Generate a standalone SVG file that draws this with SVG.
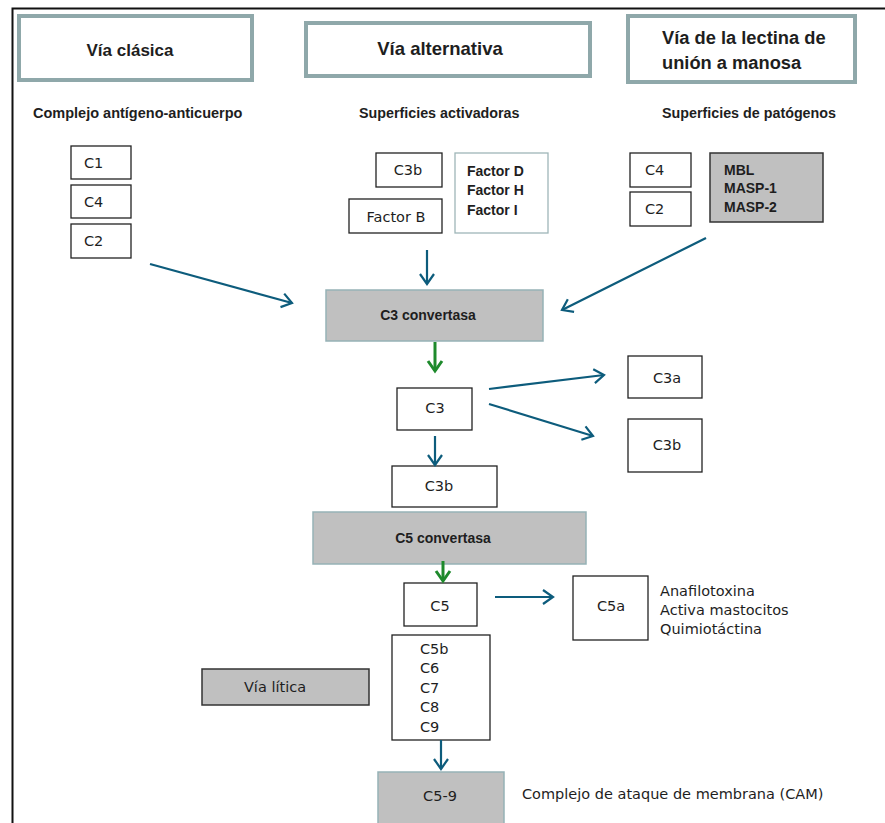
<svg xmlns="http://www.w3.org/2000/svg" width="885" height="823" viewBox="0 0 885 823">
<defs>
<style>
.hdr{fill:#fff;stroke:#8fa8aa;stroke-width:4}
.box{fill:#fff;stroke:#222;stroke-width:1.3}
.gbox{fill:#c0c0c0;stroke:#96b2b6;stroke-width:1.5}
.gboxd{fill:#c0c0c0;stroke:#333;stroke-width:1.5}
.lbox{fill:#fff;stroke:#9fb6b8;stroke-width:1.3}
.b{font-family:"Liberation Sans",Arial,sans-serif;font-weight:bold;fill:#1e1e1e}
.s{font-size:14px}
.t{font-family:"DejaVu Sans",Verdana,sans-serif;font-size:14.5px;fill:#1e1e1e}
.a{fill:none;stroke:#0d5c7c;stroke-width:2.2}
.g{fill:none;stroke:#1e8a2c;stroke-width:3}
</style>
<marker id="ah" markerUnits="userSpaceOnUse" markerWidth="20" markerHeight="20" refX="12" refY="8" orient="auto" viewBox="0 0 20 16">
<path d="M2,1 L12,8 L2,15" fill="none" stroke="#0d5c7c" stroke-width="2.2"/>
</marker>
<marker id="gh" markerUnits="userSpaceOnUse" markerWidth="20" markerHeight="20" refX="12" refY="8" orient="auto" viewBox="0 0 20 16">
<path d="M2,1 L12,8 L2,15" fill="none" stroke="#1e8a2c" stroke-width="3"/>
</marker>
</defs>
<rect width="885" height="823" fill="#fff"/>
<path d="M12.5,823 V8.5 H885" fill="none" stroke="#111" stroke-width="2"/>

<g id="via-clasica"><rect class="hdr" x="19" y="16" width="233" height="64"/><text class="b" x="130" y="56" font-size="17" text-anchor="middle">Vía clásica</text></g>
<g id="via-alternativa"><rect class="hdr" x="306" y="23" width="284" height="53"/><text class="b" x="440" y="55" font-size="18.5" text-anchor="middle">Vía alternativa</text></g>
<g id="via-lectina"><rect class="hdr" x="628" y="16" width="227" height="66"/><text class="b" x="662" y="44" font-size="18.3">Vía de la lectina de</text><text class="b" x="662" y="69" font-size="18.3">unión a manosa</text></g>

<g id="sub-clasica"><text class="b" x="33" y="118" font-size="14.5">Complejo antígeno-anticuerpo</text></g>
<g id="sub-alternativa"><text class="b" x="359" y="118" font-size="14.3">Superficies activadoras</text></g>
<g id="sub-lectina"><text class="b" x="662" y="118" font-size="14.3">Superficies de patógenos</text></g>

<g id="c1"><rect class="box" x="71" y="146" width="60" height="33"/><text class="t" x="84" y="168">C1</text></g>
<g id="c4"><rect class="box" x="71" y="185" width="60" height="33"/><text class="t" x="84" y="207">C4</text></g>
<g id="c2"><rect class="box" x="71" y="224" width="60" height="34"/><text class="t" x="84" y="246">C2</text></g>

<g id="c3b-alt"><rect class="box" x="376" y="153" width="66" height="34"/><text class="t" x="408" y="175" text-anchor="middle">C3b</text></g>
<g id="factor-b"><rect class="box" x="349" y="199" width="93" height="34"/><text class="t" x="396" y="222" text-anchor="middle">Factor B</text></g>
<g id="factores-dhi"><rect class="lbox" x="455" y="153" width="93" height="80"/><text class="b s" x="467" y="176">Factor D</text><text class="b s" x="467" y="195">Factor H</text><text class="b s" x="467" y="215">Factor I</text></g>

<g id="c4-lec"><rect class="box" x="630" y="153" width="61" height="34"/><text class="t" x="645" y="175">C4</text></g>
<g id="c2-lec"><rect class="box" x="630" y="192" width="61" height="34"/><text class="t" x="645" y="214">C2</text></g>
<g id="mbl"><rect class="gboxd" x="710" y="153" width="113" height="69"/><text class="b s" x="724" y="175">MBL</text><text class="b s" x="724" y="193">MASP-1</text><text class="b s" x="724" y="212">MASP-2</text></g>

<g id="c3-convertasa"><rect class="gbox" x="326" y="290" width="217" height="51"/><text class="b s" x="428" y="320" text-anchor="middle">C3 convertasa</text></g>
<g id="c3"><rect class="box" x="397" y="388" width="75" height="42"/><text class="t" x="435" y="413" text-anchor="middle">C3</text></g>
<g id="c3a"><rect class="box" x="628" y="356" width="74" height="42"/><text class="t" x="667" y="383" text-anchor="middle">C3a</text></g>
<g id="c3b-frag"><rect class="box" x="628" y="419" width="74" height="53"/><text class="t" x="667" y="450" text-anchor="middle">C3b</text></g>
<g id="c3b"><rect class="box" x="392" y="466" width="105" height="41"/><text class="t" x="439" y="491" text-anchor="middle">C3b</text></g>

<g id="c5-convertasa"><rect class="gbox" x="313" y="512" width="273" height="52"/><text class="b s" x="443" y="543" text-anchor="middle">C5 convertasa</text></g>
<g id="c5"><rect class="box" x="404" y="583" width="73" height="43"/><text class="t" x="440" y="611" text-anchor="middle">C5</text></g>
<g id="c5a"><rect class="box" x="573" y="576" width="75" height="64"/><text class="t" x="611" y="611" text-anchor="middle">C5a</text></g>
<g id="c5a-text"><text class="t" x="660" y="596" font-size="14.8">Anafilotoxina</text><text class="t" x="660" y="615" font-size="14.8">Activa mastocitos</text><text class="t" x="660" y="634" font-size="14.8">Quimiotáctina</text></g>
<g id="c5b-c9"><rect class="box" x="392" y="635" width="98" height="105"/><text class="t" x="420" y="654">C5b</text><text class="t" x="420" y="673">C6</text><text class="t" x="420" y="693">C7</text><text class="t" x="420" y="712">C8</text><text class="t" x="420" y="732">C9</text></g>
<g id="via-litica"><rect class="gboxd" x="202" y="669" width="167" height="36"/><text class="t" x="275" y="692" text-anchor="middle" font-size="16">Vía lítica</text></g>
<g id="c5-9"><rect class="gbox" x="378" y="772" width="126" height="55"/><text class="t" x="440" y="801" text-anchor="middle" font-size="16">C5-9</text></g>
<g id="cam"><text class="t" x="522" y="799" font-size="15">Complejo de ataque de membrana (CAM)</text></g>

<g id="connectors">
<line class="a" x1="150" y1="264" x2="292" y2="303" marker-end="url(#ah)"/>
<line class="a" x1="427" y1="250" x2="427" y2="284" marker-end="url(#ah)"/>
<line class="a" x1="706" y1="238" x2="562" y2="310" marker-end="url(#ah)"/>
<line class="g" x1="435" y1="342" x2="435" y2="371" marker-end="url(#gh)"/>
<line class="a" x1="489" y1="389" x2="604" y2="375" marker-end="url(#ah)"/>
<line class="a" x1="489" y1="404" x2="593" y2="436" marker-end="url(#ah)"/>
<line class="a" x1="435" y1="436" x2="435" y2="465" marker-end="url(#ah)"/>
<line class="g" x1="443" y1="561" x2="443" y2="581" marker-end="url(#gh)"/>
<line class="a" x1="495" y1="597" x2="553" y2="597" marker-end="url(#ah)"/>
<line class="a" x1="441" y1="740" x2="441" y2="769" marker-end="url(#ah)"/>
</g>
</svg>
